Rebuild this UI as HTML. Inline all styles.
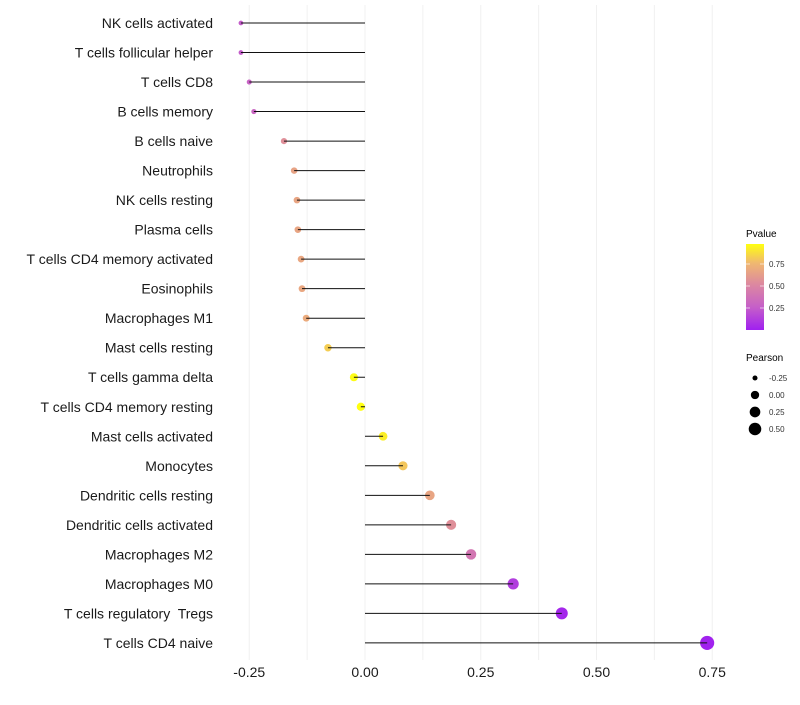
<!DOCTYPE html>
<html><head><meta charset="utf-8"><style>
body{margin:0;background:#fff;font-family:"Liberation Sans",Arial,sans-serif}
svg text{font-family:"Liberation Sans",Arial,sans-serif;white-space:pre}
</style></head><body>
<svg id="chart" width="800" height="700" xmlns="http://www.w3.org/2000/svg">
<defs><linearGradient id="pg" x1="0" y1="1" x2="0" y2="0">
<stop offset="0" stop-color="#a020f0"/><stop offset="0.27" stop-color="#c660c8"/><stop offset="0.53" stop-color="#dc88a0"/><stop offset="0.78" stop-color="#f0b870"/><stop offset="1" stop-color="#ffff10"/></linearGradient></defs>
<g id="grid"></g><g id="dots"></g><g id="marks"></g><g id="labels"></g><g id="xticks"></g>
<g>
<text x="746" y="237" font-size="10">Pvalue</text>
<rect x="746" y="244" width="18" height="86" fill="url(#pg)"/>
<line x1="746" x2="750" y1="264" y2="264" stroke="#fff" opacity="0.6"/><line x1="760" x2="764" y1="264" y2="264" stroke="#fff" opacity="0.6"/>
<line x1="746" x2="750" y1="286" y2="286" stroke="#fff" opacity="0.6"/><line x1="760" x2="764" y1="286" y2="286" stroke="#fff" opacity="0.6"/>
<line x1="746" x2="750" y1="308" y2="308" stroke="#fff" opacity="0.6"/><line x1="760" x2="764" y1="308" y2="308" stroke="#fff" opacity="0.6"/>
<text x="769" y="267" font-size="8" fill="#333">0.75</text>
<text x="769" y="289" font-size="8" fill="#333">0.50</text>
<text x="769" y="311" font-size="8" fill="#333">0.25</text>
</g>
<g id="sizeLegend">
<text x="746" y="361" font-size="10">Pearson</text>
</g>
</svg>
<script>
const categories=["NK cells activated","T cells follicular helper","T cells CD8","B cells memory","B cells naive","Neutrophils","NK cells resting","Plasma cells","T cells CD4 memory activated","Eosinophils","Macrophages M1","Mast cells resting","T cells gamma delta","T cells CD4 memory resting","Mast cells activated","Monocytes","Dendritic cells resting","Dendritic cells activated","Macrophages M2","Macrophages M0","T cells regulatory  Tregs","T cells CD4 naive"];
const pearson=[-0.268,-0.268,-0.25,-0.24,-0.175,-0.153,-0.147,-0.145,-0.138,-0.136,-0.127,-0.08,-0.024,-0.009,0.039,0.082,0.14,0.186,0.229,0.32,0.425,0.739];
const pvalues=[0.25,0.25,0.28,0.3,0.55,0.65,0.66,0.66,0.67,0.67,0.69,0.82,0.96,0.97,0.92,0.8,0.66,0.55,0.4,0.12,0.03,0.01];
const xTicks=[-0.25,0,0.25,0.5,0.75];
const xTickLabels=["-0.25","0.00","0.25","0.50","0.75"];
const sizeLegendValues=[-0.25,0,0.25,0.5];
const sizeLegendLabels=["-0.25","0.00","0.25","0.50"];

const NS="http://www.w3.org/2000/svg";
const x=v=>365+v*463;
const y=i=>23+i*29.52;
const r=v=>Math.sqrt(Math.max(1,5.5+(v+0.27)*44));
const stops=[[0,[160,32,240]],[0.27,[198,96,200]],[0.53,[220,136,160]],[0.78,[240,184,112]],[1,[255,255,16]]];
function col(p){const t=Math.min(1,Math.max(0,p/0.97));for(let k=1;k<stops.length;k++){if(t<=stops[k][0]){const a=stops[k-1],b=stops[k],f=(t-a[0])/(b[0]-a[0]);return "rgb("+a[1].map((c,j)=>Math.round(c+(b[1][j]-c)*f)).join(",")+")";}}return "rgb(255,255,16)";}
function mk(tag,attrs,parent){const e=document.createElementNS(NS,tag);for(const k in attrs)e.setAttribute(k,attrs[k]);parent.appendChild(e);return e;}
const grid=document.getElementById('grid'),dots=document.getElementById('dots'),marks=document.getElementById('marks'),labels=document.getElementById('labels'),xt=document.getElementById('xticks');
for(let v=-0.25;v<=0.76;v+=0.125){const g=mk('line',{x1:x(v),x2:x(v),y1:5,y2:660,stroke:'#f0f0f0','stroke-width':1},grid);

}
categories.forEach((c,i)=>{
const t=mk('text',{x:213,y:y(i)+5,'text-anchor':'end','font-size':14,fill:'#1a1a1a'},labels);t.textContent=c;


const d=mk('circle',{cx:x(pearson[i]),cy:y(i),r:r(pearson[i]),fill:col(pvalues[i])},dots);


const l=mk('line',{x1:x(0),x2:x(pearson[i]),y1:y(i),y2:y(i),stroke:'#111','stroke-width':1},marks);


});
xTicks.forEach((v,i)=>{const t=mk('text',{x:x(v),y:677,'text-anchor':'middle','font-size':14,fill:'#1a1a1a'},xt);t.textContent=xTickLabels[i];

});
const sl=document.getElementById('sizeLegend');
sizeLegendValues.forEach((v,i)=>{const cy=378+i*17;
const c=mk('circle',{cx:755,cy:cy,r:r(v),fill:'#000'},sl);


const t=mk('text',{x:769,y:cy+3,'font-size':8,fill:'#333'},sl);t.textContent=sizeLegendLabels[i];

});
</script>
</body></html>
